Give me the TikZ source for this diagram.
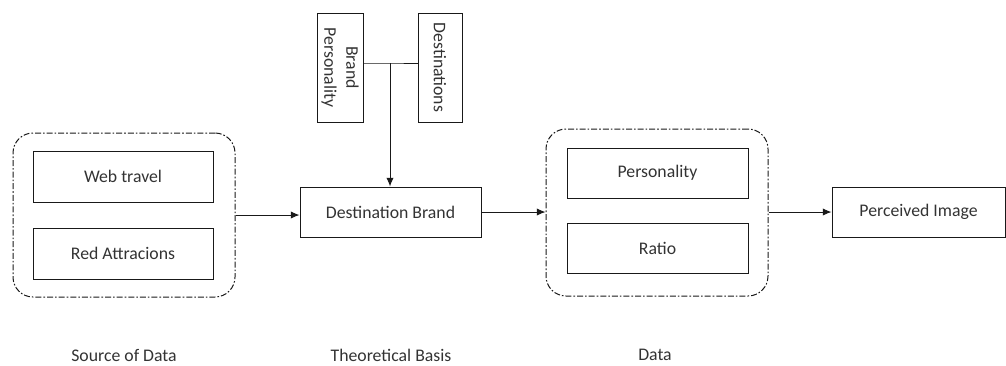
\documentclass[tikz,border=0pt]{standalone}
\usepackage{fontspec}
\setmainfont{Carlito}
\usetikzlibrary{arrows.meta,calc}
\begin{document}
\begin{tikzpicture}[x=0.75pt,y=-0.75pt,
  font=\fontsize{13.3}{16.5}\selectfont,
  box/.style={draw=black!90, line width=0.75pt, text=black!80, inner sep=0pt, align=center},
  grp/.style={draw=black!90, line width=0.75pt, rounded corners=15pt, inner sep=0pt,
    dash pattern=on 4.5pt off 1.5pt on 1.2pt off 1.5pt},
  arr/.style={draw=black!90, line width=0.75pt, -{Latex[length=6.5pt,width=5.5pt]}},
  ln/.style={draw=black!90, line width=0.75pt},
  lbl/.style={text=black!80, inner sep=0pt}]
\useasboundingbox (0,0) rectangle (1006,365);
% left group
\node[grp, minimum width=222*0.75pt, minimum height=164*0.75pt] (lg) at (124,215) {};
\node[box, minimum width=180*0.75pt, minimum height=51*0.75pt] (wt) at (123,176.5) {Web travel};
\node[box, minimum width=180*0.75pt, minimum height=51*0.75pt] (ra) at (123,253.5) {Red Attracions};
% theoretical basis
\node[box, minimum width=181*0.75pt, minimum height=50*0.75pt] (db) at (390.5,212) {Destination Brand};
\node[box, rotate=-90, minimum width=109*0.75pt, minimum height=46*0.75pt] (bp) at (340,67.5) {Brand\\Personality};
\node[box, rotate=-90, minimum width=109*0.75pt, minimum height=44*0.75pt] (de) at (440,67.5) {Destinations};
\coordinate (j) at (390,63);
\draw[ln] (bp.north |- j) -- (j) -- (de.south |- j);
% right group
\node[grp, minimum width=222*0.75pt, minimum height=167*0.75pt] (rg) at (657,212.5) {};
\node[box, minimum width=181*0.75pt, minimum height=50*0.75pt] (pe) at (657.5,173) {Personality};
\node[box, minimum width=181*0.75pt, minimum height=50*0.75pt] (ro) at (657.5,248.5) {Ratio};
\node[box, minimum width=173*0.75pt, minimum height=50*0.75pt] (pi) at (918.5,212) {Perceived Image};
% arrows
\draw[arr] (j) -- (j |- db.north);
\draw[arr] (lg.east) -- (lg.east -| db.west);
\draw[arr] (db.east) -- (db.east -| rg.west);
\draw[arr] (rg.east |- pi.west) -- (pi.west);
% bottom labels
\node[lbl] (l1) at (124,355) {Source of Data};
\node[lbl] (l2) at (391,355) {Theoretical Basis};
\node[lbl] (l3) at (655,355) {Data};
\end{tikzpicture}
\end{document}
